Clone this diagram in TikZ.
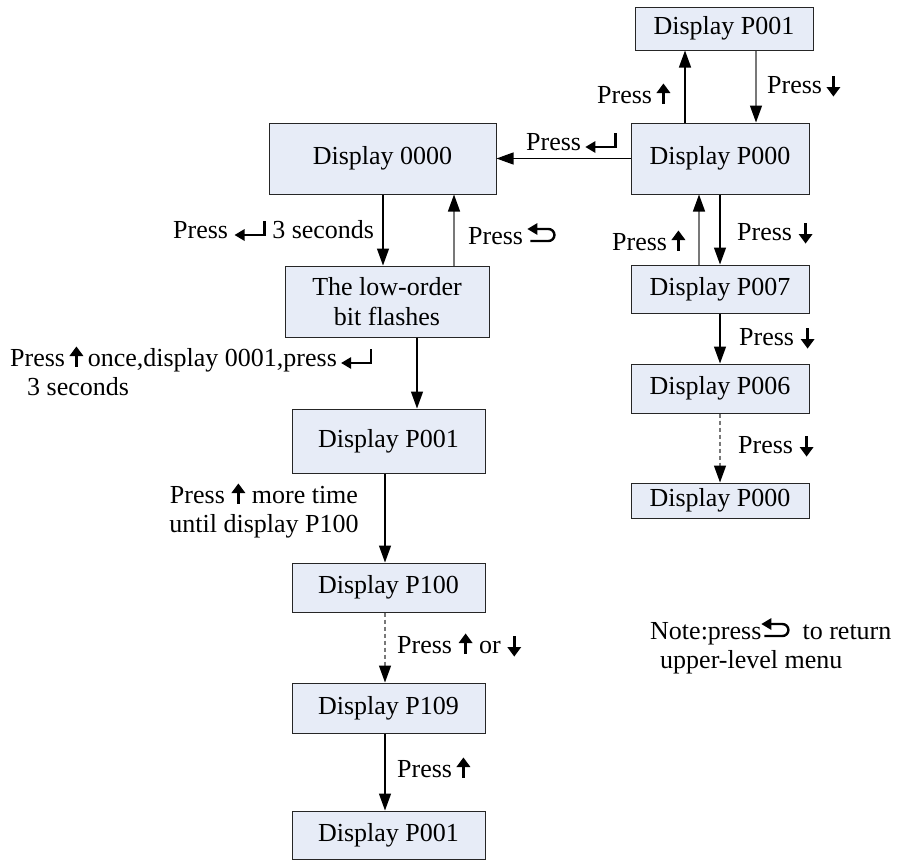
\documentclass[tikz,border=0pt]{standalone}
\usepackage{fontspec}
\setmainfont{Liberation Serif}
\usetikzlibrary{arrows.meta}
\definecolor{boxfill}{RGB}{231,236,247}
\definecolor{lgray}{RGB}{120,120,120}
\newcommand{\kup}{\tikz[baseline=0pt,x=1pt,y=1pt]{\fill (-1.5,-1) rectangle (1.5,11); \fill (-7,10) -- (7,10) -- (0,19.5) -- cycle;}}
\newcommand{\kdown}{\tikz[baseline=0pt,x=1pt,y=1pt]{\fill (-1.5,17.5) rectangle (1.5,5); \fill (-7,6) -- (7,6) -- (0,-3.5) -- cycle;}}
\newcommand{\kent}{\tikz[baseline=0pt,x=1pt,y=1pt]{\draw[line width=2.4pt] (7,3) -- (30,3) -- (30,17.5); \fill (0,3) -- (10,-3) -- (10,9) -- cycle;}}
\newcommand{\kret}{\tikz[baseline=0pt,x=1pt,y=1pt]{\draw[line width=2.4pt] (6,15) -- (21,15) arc (90:-90:6) -- (3,3); \fill (0,15) -- (10,21) -- (10,9) -- cycle;}}
\begin{document}
\begin{tikzpicture}[x=1pt,y=-1pt,
  every node/.style={font=\fontsize{26}{29}\selectfont},
  box/.style={draw=black!85, line width=1pt, fill=boxfill, inner sep=0pt, align=center},
  lbl/.style={inner sep=0pt, anchor=base west},
  arr/.style={line width=1.3pt, -{Triangle[length=17pt,width=12pt,color=black]}},
  garr/.style={arr, draw=lgray},
  darr/.style={arr, draw=lgray, dash pattern=on 4pt off 3pt}]
\useasboundingbox (0,0) rectangle (923,860);
% right column
\node[box, minimum width=178pt, minimum height=43pt] (R1) at (724,28.5) {Display P001};
\node[box, minimum width=178pt, minimum height=71pt] (R2) at (720,158.5) {Display P000};
\node[box, minimum width=178pt, minimum height=48pt] (R3) at (720,289) {Display P007};
\node[box, minimum width=178pt, minimum height=49pt] (R4) at (720,388.5) {Display P006};
\node[box, minimum width=178pt, minimum height=35pt] (R5) at (720,500.5) {Display P000};
% left column
\node[box, minimum width=227pt, minimum height=71pt] (L0) at (382.5,158.5) {Display 0000};
\node[box, minimum width=204pt, minimum height=71pt, font=\fontsize{26}{30}\selectfont] (LO) at (387,301.5) {The low-order\\bit flashes};
\node[box, minimum width=193pt, minimum height=64pt] (L1) at (388.5,441) {Display P001};
\node[box, minimum width=193pt, minimum height=49pt] (L2) at (388.5,587.5) {Display P100};
\node[box, minimum width=193pt, minimum height=50pt] (L3) at (388.5,708) {Display P109};
\node[box, minimum width=193pt, minimum height=48pt] (L4) at (388.5,835) {Display P001};
% connector columns
\coordinate (xa) at (756,0);
\coordinate (xb) at (685,0);
\coordinate (xc) at (720,0);
\coordinate (xd) at (699,0);
\coordinate (xe) at (383,0);
\coordinate (xf) at (454,0);
\coordinate (xg) at (417,0);
\coordinate (xh) at (385,0);
% connectors
\draw[garr] (xa |- R1.south) -- (xa |- R2.north);
\draw[arr] (xb |- R2.north) -- (xb |- R1.south);
\draw[arr] (R2.west) -- (L0.east);
\draw[arr] (xe |- L0.south) -- (xe |- LO.north);
\draw[garr] (xf |- LO.north) -- (xf |- L0.south);
\draw[arr] (xc |- R2.south) -- (xc |- R3.north);
\draw[garr] (xd |- R3.north) -- (xd |- R2.south);
\draw[arr] (xc |- R3.south) -- (xc |- R4.north);
\draw[darr] (xc |- R4.south) -- (xc |- R5.north);
\draw[arr] (xg |- LO.south) -- (xg |- L1.north);
\draw[arr] (xh |- L1.south) -- (xh |- L2.north);
\draw[darr] (xh |- L2.south) -- (xh |- L3.north);
\draw[arr] (xh |- L3.south) -- (xh |- L4.north);
% labels
\node[lbl] (t1) at (597,103) {Press\,\kup};
\node[lbl] (t2) at (767,93) {Press\,\kdown};
\node[lbl] (t3) at (526,150) {Press\,\kent};
\node[lbl] (t4) at (173,238) {Press \kent\ 3 seconds};
\node[lbl] (t5) at (468,244) {Press\,\kret};
\node[lbl, align=left] (t6) at (10,395) {Press\,\kup\,once,display 0001,press\,\kent\\\hspace*{17pt}3 seconds};
\node[inner sep=0pt, align=center, anchor=base] (t7) at (264,532) {Press \kup\ more time\\until display P100};
\node[lbl] (t8) at (397,653) {Press \kup\ or \kdown};
\node[lbl] (t9) at (397,777) {Press\,\kup};
\node[lbl] (t10) at (612,250) {Press\,\kup};
\node[lbl] (t11) at (737,240) {Press \kdown};
\node[lbl] (t12) at (739,345) {Press \kdown};
\node[lbl] (t13) at (738,453) {Press \kdown};
\node[lbl, align=left] (t14) at (650,668) {Note:press\kret\ \ to return\\\hspace*{10pt}upper-level menu};
\end{tikzpicture}
\end{document}
